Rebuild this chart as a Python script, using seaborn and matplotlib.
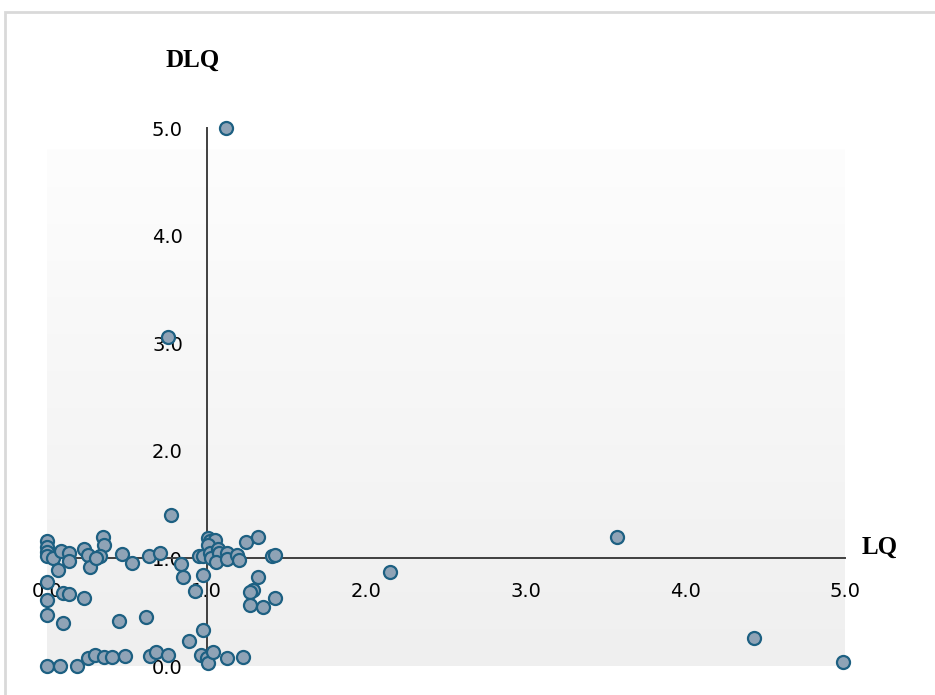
import numpy as np
import pandas as pd
import matplotlib
matplotlib.use("Agg")
import matplotlib.pyplot as plt
from matplotlib.patches import Rectangle
from matplotlib.colors import LinearSegmentedColormap
import seaborn as sns

# Location quotient (LQ) and dynamic location quotient (DLQ) per industry
lq = [1.12, 0.76, 0.78, 3.57, 2.15, 4.43, 4.99,
      0.00, 0.00, 0.00, 0.00, 0.00, 0.00, 0.00, 0.00,
      0.04, 0.09, 0.14, 0.14, 0.07, 0.10, 0.14, 0.23, 0.10,
      0.08, 0.19, 0.26, 0.30, 0.36, 0.41, 0.49,
      0.23, 0.26, 0.27, 0.35, 0.36, 0.33, 0.31, 0.47, 0.53,
      0.64, 0.71, 0.84, 0.85, 0.93, 0.98, 0.95,
      0.45, 0.62, 0.645, 0.68, 0.76, 0.89, 0.98, 0.965,
      1.00, 1.01, 1.04, 1.125, 1.225,
      1.01, 1.02, 1.05, 1.01, 0.98, 1.02, 1.03, 1.07, 1.08,
      1.06, 1.125, 1.125, 1.19, 1.20, 1.245, 1.32, 1.41, 1.43,
      1.32, 1.29, 1.27, 1.27, 1.355, 1.43]
dlq = [5.00, 3.06, 1.40, 1.20, 0.87, 0.26, 0.04,
       1.16, 1.11, 1.06, 1.02, 0.78, 0.61, 0.47, 0.00,
       1.00, 1.07, 1.05, 0.98, 0.89, 0.68, 0.67, 0.63, 0.40,
       0.00, 0.00, 0.07, 0.10, 0.08, 0.08, 0.09,
       1.09, 1.03, 0.92, 1.20, 1.12, 1.02, 1.00, 1.04, 0.96,
       1.02, 1.05, 0.95, 0.83, 0.70, 0.85, 1.02,
       0.42, 0.46, 0.09, 0.13, 0.10, 0.23, 0.33, 0.10,
       0.07, 0.03, 0.13, 0.07, 0.08,
       1.19, 1.16, 1.17, 1.12, 1.02, 1.05, 1.00, 1.09, 1.05,
       0.97, 1.05, 0.99, 1.03, 0.985, 1.15, 1.20, 1.02, 1.03,
       0.83, 0.71, 0.69, 0.57, 0.545, 0.63]

ticks = [0, 1, 2, 3, 4, 5]
tick_labels = ["0.0", "1.0", "2.0", "3.0", "4.0", "5.0"]

df = pd.DataFrame({"LQ": lq, "DLQ": dlq})

sns.set_style("white")
plt.rcParams["font.family"] = ["DejaVu Sans"]
plt.rcParams["text.color"] = "black"

W, H = 935, 695
fig = plt.figure(figsize=(W / 100, H / 100), dpi=100)
ax = fig.add_axes([47 / W, (H - 666) / H, 798 / W, 538 / H])

# chart-area frame
fig.patches.append(Rectangle((5 / W, -0.1), 1.2, (H - 12) / H + 0.1,
                             transform=fig.transFigure, fill=False,
                             edgecolor="#d9d9d9", linewidth=2.0, zorder=0))

# soft vertical gradient in the plot area
grad = np.linspace(0, 1, 256).reshape(-1, 1)
cmap = LinearSegmentedColormap.from_list("bg", ["#fdfdfd", "#efefef"])
ax.imshow(grad, extent=[0, 5, -0.01, 4.8], aspect="auto", cmap=cmap,
          origin="upper", zorder=0, interpolation="bilinear")

sns.scatterplot(data=df, x="LQ", y="DLQ", ax=ax, s=88,
                color="#8fa3b6", edgecolor="#1d6082", linewidth=1.6,
                clip_on=False, zorder=3, legend=False)

ax.set_xlim(0, 5)
ax.set_ylim(0, 5)
ax.set_facecolor("none")

# axes cross at (1, 1)
for side in ["top", "right"]:
    ax.spines[side].set_visible(False)
ax.spines["left"].set_position(("data", 1))
ax.spines["bottom"].set_position(("data", 1))
for side in ["left", "bottom"]:
    ax.spines[side].set_color("#404040")
    ax.spines[side].set_linewidth(1.4)
    ax.spines[side].set_zorder(2)

ax.set_xticks(ticks)
ax.set_xticklabels(tick_labels)
ax.set_yticks(ticks)
ax.set_yticklabels(tick_labels)
ax.tick_params(axis="x", length=0, pad=17, labelsize=14, colors="black")
ax.tick_params(axis="y", length=0, pad=17, labelsize=14, colors="black")
ax.set_xlabel("")
ax.set_ylabel("")

fig.text(193 / W, 1 - 60 / H, "DLQ", ha="center", va="center", color="black",
         family="Liberation Serif", fontweight="bold", fontsize=18)
fig.text(880 / W, 1 - 547 / H, "LQ", ha="center", va="center", color="black",
         family="Liberation Serif", fontweight="bold", fontsize=18)

fig.savefig("out.png", dpi=100)
